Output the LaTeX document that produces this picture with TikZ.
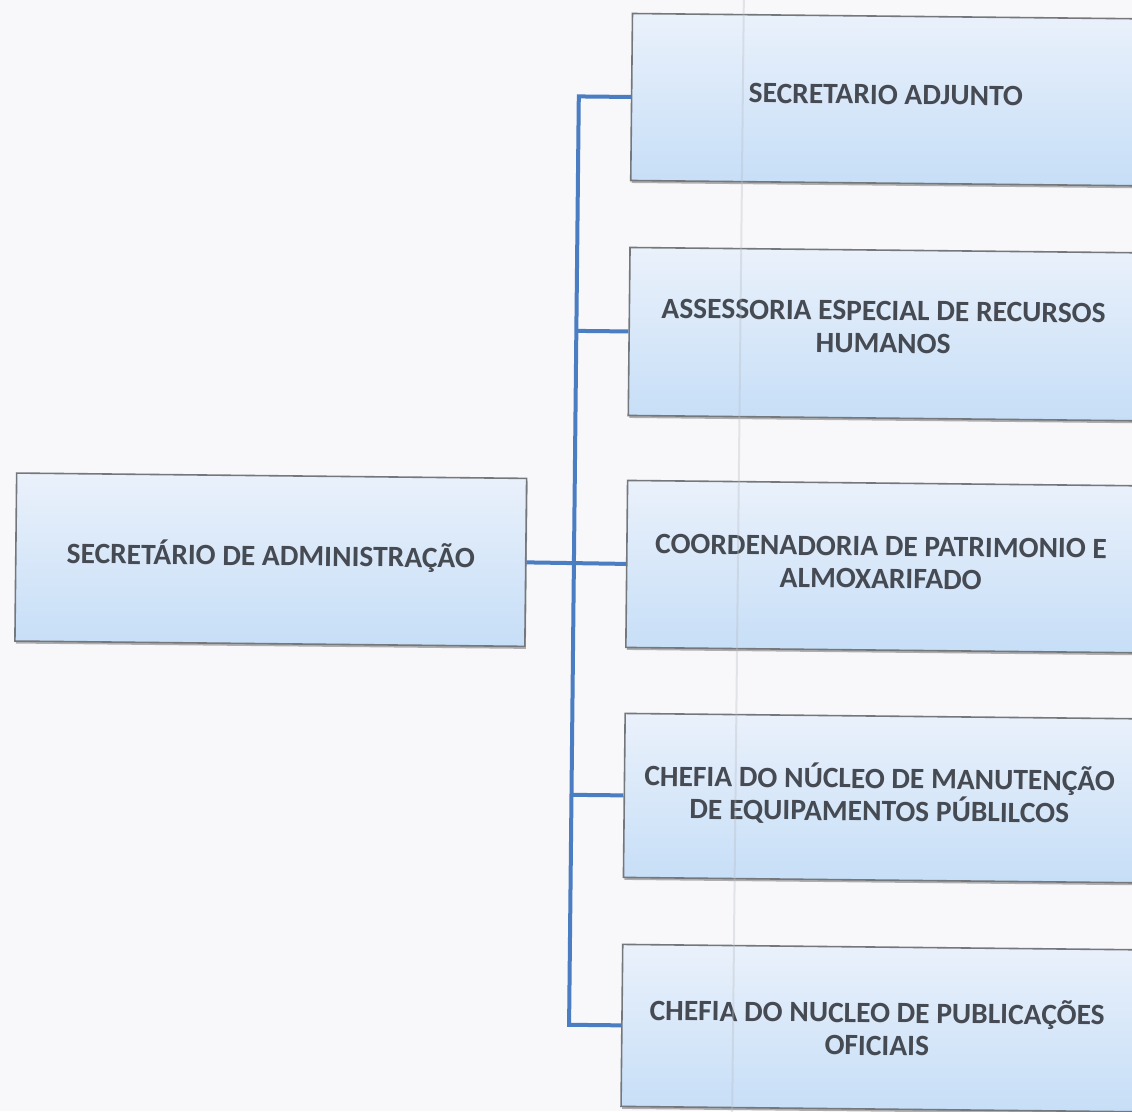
\documentclass[tikz,border=0pt]{standalone}
\usepackage{fontspec}
\setmainfont{Carlito}
\usetikzlibrary{shadows}
\definecolor{bg}{HTML}{F8F8FA}
\definecolor{boxtop}{HTML}{EAF1FB}
\definecolor{boxbot}{HTML}{C6DEF7}
\definecolor{boxline}{HTML}{74787D}
\definecolor{txt}{HTML}{464A52}
\definecolor{conn}{HTML}{4A7DC2}
\definecolor{fold}{HTML}{B8BCC4}
\tikzset{
  orgbox/.style={draw=boxline, line width=1.6pt, top color=boxtop, bottom color=boxbot,
    inner sep=0pt, anchor=north west,
    drop shadow={shadow xshift=1pt, shadow yshift=-2.5pt, opacity=0.5, fill=black!60}},
  lbl/.style={text=txt, font=\fontsize{29.5}{32.5}\selectfont\bfseries, align=center, inner sep=0pt},
  connline/.style={draw=conn, line width=4pt, line join=miter}
}
\begin{document}
\begin{tikzpicture}[x=1pt,y=-1pt]
\useasboundingbox (0,0) rectangle (1132,1111);
\fill[bg] (0,0) rectangle (1132,1111);
\begin{scope}[rotate around={-0.6:(566,556)}, transform shape]
  % boxes
  \node[orgbox, minimum width=510pt, minimum height=168pt] (a) at (15,478) {};
  \node[orgbox, minimum width=540pt, minimum height=167pt] (b1) at (626,12) {};
  \node[orgbox, minimum width=540pt, minimum height=168pt] (b2) at (626,246) {};
  \node[orgbox, minimum width=540pt, minimum height=167pt] (b3) at (626,479) {};
  \node[orgbox, minimum width=540pt, minimum height=164pt] (b4) at (626,712) {};
  \node[orgbox, minimum width=540pt, minimum height=162pt] (b5) at (626,943) {};
  % labels
  \node[lbl] (ta) at ([yshift=4pt]a.center) {SECRETÁRIO DE ADMINISTRAÇÃO};
  \node[lbl] (t1) at ([xshift=255pt,yshift=5pt]b1.west) {SECRETARIO ADJUNTO};
  \node[lbl] (t2) at ([xshift=255pt,yshift=7pt]b2.west) {ASSESSORIA ESPECIAL DE RECURSOS\\HUMANOS};
  \node[lbl] (t3) at ([xshift=255pt,yshift=4pt]b3.west) {COORDENADORIA DE PATRIMONIO E\\ALMOXARIFADO};
  \node[lbl] (t4) at ([xshift=256pt,yshift=4pt]b4.west) {CHEFIA DO NÚCLEO DE MANUTENÇÃO\\DE EQUIPAMENTOS PÚBLILCOS};
  \node[lbl] (t5) at ([xshift=256pt,yshift=1pt]b5.west) {CHEFIA DO NUCLEO DE PUBLICAÇÕES\\OFICIAIS};
  % connectors
  \coordinate (j1) at (574,0 |- b1.west);
  \coordinate (j2) at (574,0 |- b2.west);
  \coordinate (j4) at (574,0 |- b4.west);
  \coordinate (j5) at (574,0 |- b5.west);
  \draw[connline] (b1.west) -- (j1) -- (j5) -- (b5.west);
  \draw[connline] (j2) -- (b2.west);
  \draw[connline] (j4) -- (b4.west);
  \draw[connline] (a.east) -- (b3.west);
  % faint fold of the scanned sheet
  \draw[fold, line width=2pt, opacity=0.35] (738,-10) -- (738,1125);
\end{scope}
\end{tikzpicture}
\end{document}
